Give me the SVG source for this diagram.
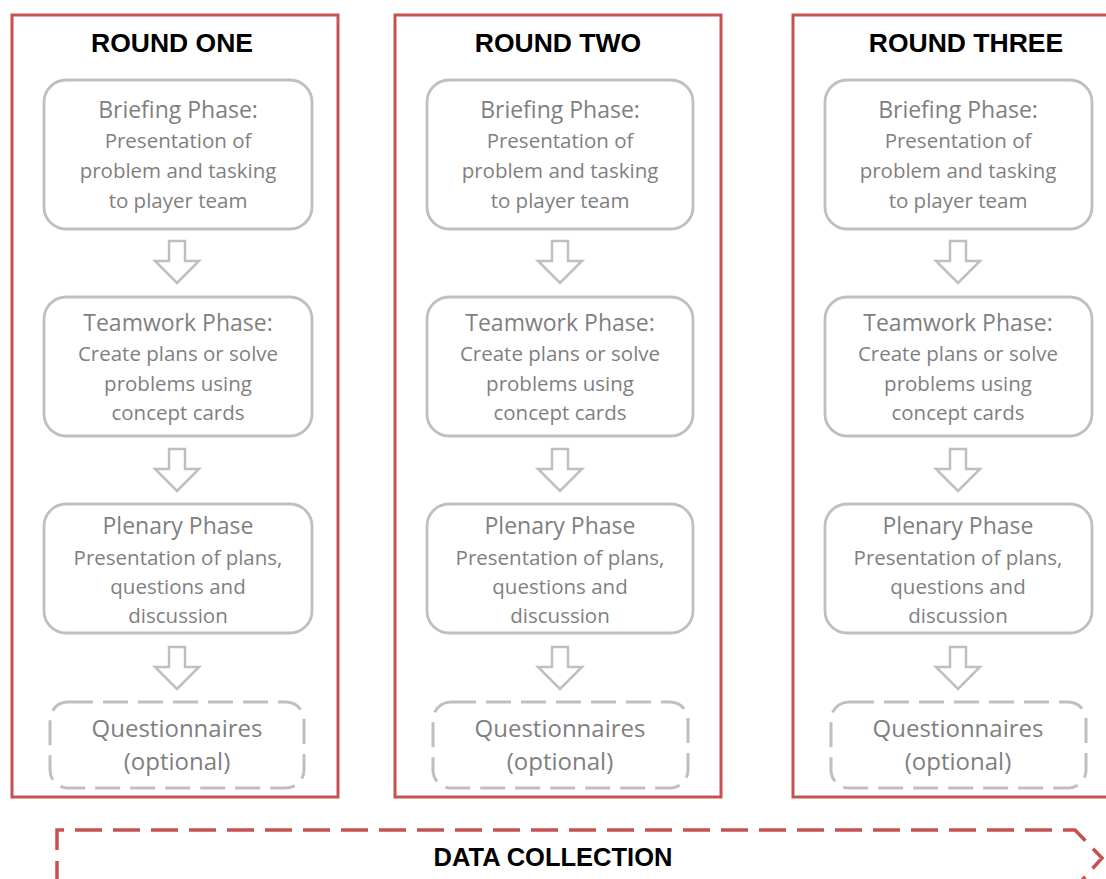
<svg xmlns="http://www.w3.org/2000/svg" width="1106" height="879" viewBox="0 0 1106 879">
<defs>
<style>
.frame{fill:none;stroke:#C55250;stroke-width:3}
.box{fill:#fff;stroke:#BFBFBF;stroke-width:2.8}
.dbox{fill:#fff;stroke:#BFBFBF;stroke-width:3;stroke-dasharray:25 10}
.arr{fill:#fff;stroke:#BFBFBF;stroke-width:2.5;stroke-linejoin:miter}
.title{font-family:"Liberation Sans",Arial,sans-serif;font-weight:bold;font-size:26.5px;fill:#000;text-anchor:middle}
.h{font-family:"Open Sans","Liberation Sans",sans-serif;font-size:23px;fill:#7F7F7F;text-anchor:middle}
.b{font-family:"Open Sans","Liberation Sans",sans-serif;font-size:20.5px;fill:#7F7F7F;text-anchor:middle}
.q{font-family:"Open Sans","Liberation Sans",sans-serif;font-size:24px;fill:#7F7F7F;text-anchor:middle}
.dc{fill:none;stroke:#C55250;stroke-width:3.5;stroke-dasharray:27 11}
.dct{font-family:"Liberation Sans",Arial,sans-serif;font-weight:bold;font-size:25.5px;fill:#000;text-anchor:middle}
</style>
<path id="arrow" d="M-8,0 H8 V20 H22 L0,42 L-22,20 H-8 Z"/>
</defs>
<rect width="1106" height="879" fill="#fff"/>

<g id="round-one">
<rect class="frame" x="12" y="15" width="326" height="782"/>
<text class="title" x="172" y="52">ROUND ONE</text>
<g id="r1-briefing">
<rect class="box" x="44" y="80" width="268" height="149" rx="22"/>
<text class="h" x="178" y="118">Briefing Phase:</text>
<text class="b" x="178" y="148">Presentation of</text>
<text class="b" x="178" y="178">problem and tasking</text>
<text class="b" x="178" y="208">to player team</text>
</g>
<g id="r1-teamwork">
<rect class="box" x="44" y="297" width="268" height="139" rx="22"/>
<text class="h" x="178" y="331">Teamwork Phase:</text>
<text class="b" x="178" y="361">Create plans or solve</text>
<text class="b" x="178" y="391">problems using</text>
<text class="b" x="178" y="420">concept cards</text>
</g>
<g id="r1-plenary">
<rect class="box" x="44" y="504" width="268" height="129" rx="22"/>
<text class="h" x="178" y="534">Plenary Phase</text>
<text class="b" x="178" y="565">Presentation of plans,</text>
<text class="b" x="178" y="594">questions and</text>
<text class="b" x="178" y="623">discussion</text>
</g>
<g id="r1-questionnaires">
<rect class="dbox" x="50" y="702" width="254" height="86" rx="18"/>
<text class="q" x="177" y="737">Questionnaires</text>
<text class="q" x="177" y="770">(optional)</text>
</g>
</g>

<g id="round-two">
<rect class="frame" x="395" y="15" width="326" height="782"/>
<text class="title" x="558" y="52">ROUND TWO</text>
<g id="r2-briefing">
<rect class="box" x="427" y="80" width="266" height="149" rx="22"/>
<text class="h" x="560" y="118">Briefing Phase:</text>
<text class="b" x="560" y="148">Presentation of</text>
<text class="b" x="560" y="178">problem and tasking</text>
<text class="b" x="560" y="208">to player team</text>
</g>
<g id="r2-teamwork">
<rect class="box" x="427" y="297" width="266" height="139" rx="22"/>
<text class="h" x="560" y="331">Teamwork Phase:</text>
<text class="b" x="560" y="361">Create plans or solve</text>
<text class="b" x="560" y="391">problems using</text>
<text class="b" x="560" y="420">concept cards</text>
</g>
<g id="r2-plenary">
<rect class="box" x="427" y="504" width="266" height="129" rx="22"/>
<text class="h" x="560" y="534">Plenary Phase</text>
<text class="b" x="560" y="565">Presentation of plans,</text>
<text class="b" x="560" y="594">questions and</text>
<text class="b" x="560" y="623">discussion</text>
</g>
<g id="r2-questionnaires">
<rect class="dbox" x="433" y="702" width="255" height="86" rx="18"/>
<text class="q" x="560" y="737">Questionnaires</text>
<text class="q" x="560" y="770">(optional)</text>
</g>
</g>

<g id="round-three">
<rect class="frame" x="793" y="15" width="326" height="782"/>
<text class="title" x="966" y="52">ROUND THREE</text>
<g id="r3-briefing">
<rect class="box" x="825" y="80" width="267" height="149" rx="22"/>
<text class="h" x="958" y="118">Briefing Phase:</text>
<text class="b" x="958" y="148">Presentation of</text>
<text class="b" x="958" y="178">problem and tasking</text>
<text class="b" x="958" y="208">to player team</text>
</g>
<g id="r3-teamwork">
<rect class="box" x="825" y="297" width="267" height="139" rx="22"/>
<text class="h" x="958" y="331">Teamwork Phase:</text>
<text class="b" x="958" y="361">Create plans or solve</text>
<text class="b" x="958" y="391">problems using</text>
<text class="b" x="958" y="420">concept cards</text>
</g>
<g id="r3-plenary">
<rect class="box" x="825" y="504" width="267" height="129" rx="22"/>
<text class="h" x="958" y="534">Plenary Phase</text>
<text class="b" x="958" y="565">Presentation of plans,</text>
<text class="b" x="958" y="594">questions and</text>
<text class="b" x="958" y="623">discussion</text>
</g>
<g id="r3-questionnaires">
<rect class="dbox" x="831" y="702" width="255" height="86" rx="18"/>
<text class="q" x="958" y="737">Questionnaires</text>
<text class="q" x="958" y="770">(optional)</text>
</g>
</g>

<g id="connectors">
<use href="#arrow" class="arr" x="177" y="241"/>
<use href="#arrow" class="arr" x="177" y="449"/>
<use href="#arrow" class="arr" x="177" y="647"/>
<use href="#arrow" class="arr" x="560" y="241"/>
<use href="#arrow" class="arr" x="560" y="449"/>
<use href="#arrow" class="arr" x="560" y="647"/>
<use href="#arrow" class="arr" x="958" y="241"/>
<use href="#arrow" class="arr" x="958" y="449"/>
<use href="#arrow" class="arr" x="958" y="647"/>
</g>

<g id="data-collection">
<path class="dc" d="M57,888 V830 H1075 L1102,858 L1075,888"/>
<text class="dct" x="553" y="866">DATA COLLECTION</text>
</g>
</svg>
